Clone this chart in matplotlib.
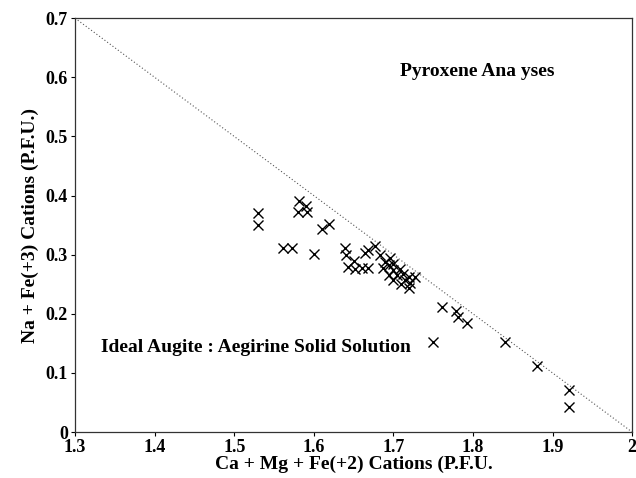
import numpy as np
import matplotlib
matplotlib.use("Agg")
import matplotlib.pyplot as plt

# Ca + Mg + Fe(+2) vs Na + Fe(+3), cations per formula unit
cmf = [1.530, 1.530, 1.561, 1.572, 1.582, 1.590, 1.580, 1.592, 1.600, 1.610, 1.619,
       1.639, 1.640, 1.643, 1.650, 1.652, 1.660, 1.668, 1.664, 1.668, 1.677, 1.683,
       1.689, 1.696, 1.687, 1.694, 1.700, 1.700, 1.708, 1.694, 1.705, 1.712, 1.715,
       1.720, 1.700, 1.710, 1.721, 1.727, 1.719,
       1.750, 1.761, 1.779, 1.781, 1.792, 1.840, 1.880, 1.920, 1.920]
nafe = [0.370, 0.350, 0.311, 0.311, 0.391, 0.382, 0.372, 0.372, 0.302, 0.343, 0.352,
        0.311, 0.300, 0.280, 0.290, 0.276, 0.277, 0.277, 0.303, 0.308, 0.314, 0.300,
        0.288, 0.294, 0.277, 0.283, 0.285, 0.274, 0.276, 0.266, 0.266, 0.268, 0.257,
        0.262, 0.257, 0.250, 0.252, 0.262, 0.243,
        0.153, 0.212, 0.204, 0.195, 0.184, 0.152, 0.112, 0.072, 0.042]

# ideal augite : aegirine solid solution line
ideal_x = [1.3, 2.0]
ideal_y = [0.7, 0.0]

xticks = [1.3, 1.4, 1.5, 1.6, 1.7, 1.8, 1.9, 2.0]
xtick_labels = ["1.3", "1.4", "1.5", "1.6", "1.7", "1.8", "1.9", "2"]
yticks = [0, 0.1, 0.2, 0.3, 0.4, 0.5, 0.6, 0.7]
ytick_labels = ["0", "0.1", "0.2", "0.3", "0.4", "0.5", "0.6", "0.7"]

plt.rcParams["font.family"] = ["Liberation Serif", "DejaVu Serif"]
plt.rcParams["font.weight"] = "bold"

fig = plt.figure(figsize=(6.36, 4.78), dpi=100)
ax = fig.add_axes([0.118, 0.096, 0.876, 0.866])

ax.plot(ideal_x, ideal_y, color="#555555", linestyle=(0, (1, 2)), linewidth=0.8)
ax.plot(cmf, nafe, linestyle="none", marker="x", color="black",
        markersize=6.5, markeredgewidth=1.0)

ax.text(1.805, 0.61, "Pyroxene Ana yses", fontsize=14, fontweight="bold",
        ha="center", va="center")
ax.text(1.332, 0.143, "Ideal Augite : Aegirine Solid Solution", fontsize=14,
        fontweight="bold", ha="left", va="center")

ax.set_xlim(1.3, 2.0)
ax.set_ylim(0, 0.7)
ax.set_xticks(xticks)
ax.set_xticklabels(xtick_labels)
ax.set_yticks(yticks)
ax.set_yticklabels(ytick_labels)
ax.tick_params(direction="out", length=3, width=0.8, labelsize=13, pad=2)
for lab in ax.get_xticklabels() + ax.get_yticklabels():
    lab.set_fontweight("bold")
for sp in ax.spines.values():
    sp.set_linewidth(0.9)
    sp.set_color("#333333")

ax.set_xlabel("Ca + Mg + Fe(+2) Cations (P.F.U.", fontsize=14, fontweight="bold", labelpad=0)
ax.set_ylabel("Na + Fe(+3) Cations (P.F.U.)", fontsize=14, fontweight="bold", labelpad=5)

fig.savefig("out.png", dpi=100)
